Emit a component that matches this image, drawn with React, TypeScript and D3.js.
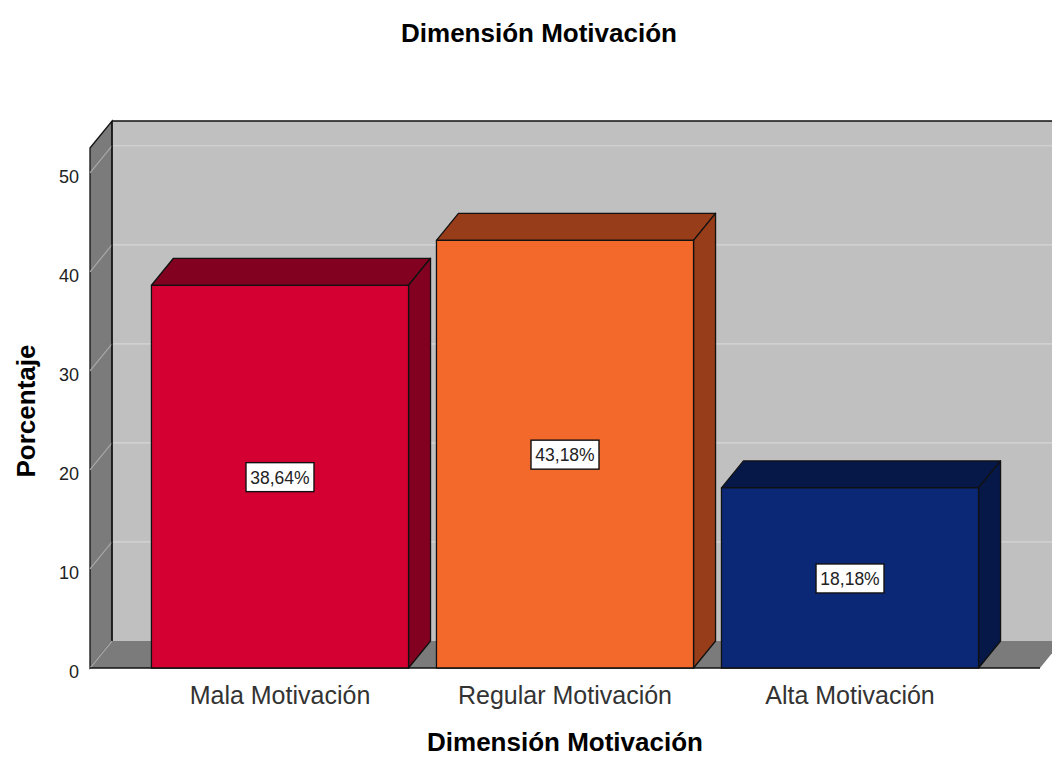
import React from "react";
import * as d3 from "d3";

const categories = ["Mala Motivación", "Regular Motivación", "Alta Motivación"];
const values = [38.64, 43.18, 18.18];
const valueLabels = ["38,64%", "43,18%", "18,18%"];
const frontColors = ["#d50032", "#f2692b", "#0b2877"];
const sideColors = ["#820020", "#983d1a", "#061848"];
const yTicks = [0, 10, 20, 30, 40, 50];

const W = 1052;
const H = 757;
const DX = 22;
const DY = -27;
const FONT = "'Liberation Sans', Arial, sans-serif";

export default function App() {
  const x = d3
    .scaleBand<string>()
    .domain(categories)
    .range([90, 1040])
    .paddingInner(0.098)
    .paddingOuter(0.2156);
  const y = d3.scaleLinear().domain([0, 52.5]).range([668, 148]);
  const y0 = y(0);
  const yTop = y(52.5);
  const left = 90;
  const right = 1040;

  const poly = (pts: [number, number][]) => pts.map((p) => p.join(",")).join(" ");

  return (
    <svg
      width={W}
      height={H}
      style={{ position: "absolute", left: 0, top: 0, background: "#fff" }}
      fontFamily={FONT}
    >
      <rect x={0} y={0} width={W} height={H} fill="#fff" />
      <text x={539} y={42} textAnchor="middle" fontSize={26} fontWeight="bold" fill="#000">
        Dimensión Motivación
      </text>

      {/* back wall */}
      <rect
        x={left + DX}
        y={yTop + DY}
        width={right - left + 10}
        height={y0 - yTop}
        fill="#c0c0c0"
      />
      {yTicks.slice(1).map((t) => (
        <line
          key={"g" + t}
          x1={left + DX}
          x2={right + DX + 10}
          y1={y(t) + DY}
          y2={y(t) + DY}
          stroke="#d6d6d6"
          strokeWidth={1.2}
        />
      ))}
      <line
        x1={left + DX}
        x2={right + DX + 10}
        y1={yTop + DY}
        y2={yTop + DY}
        stroke="#111"
        strokeWidth={1.5}
      />
      {/* left wall */}
      <polygon
        points={poly([
          [left, yTop],
          [left + DX, yTop + DY],
          [left + DX, y0 + DY],
          [left, y0],
        ])}
        fill="#7b7b7b"
        stroke="#111"
        strokeWidth={1.3}
      />
      {yTicks.slice(1).map((t) => (
        <line
          key={"w" + t}
          x1={left}
          x2={left + DX}
          y1={y(t)}
          y2={y(t) + DY}
          stroke="#a8a8a8"
          strokeWidth={1.2}
        />
      ))}
      {/* floor */}
      <polygon
        points={poly([
          [left, y0],
          [left + DX, y0 + DY],
          [right + DX, y0 + DY],
          [right, y0],
        ])}
        fill="#7b7b7b"
      />
      <line x1={left} x2={left + DX} y1={y0} y2={y0 + DY} stroke="#a8a8a8" strokeWidth={1.2} />
      <line x1={left} x2={right} y1={y0} y2={y0} stroke="#111" strokeWidth={1.5} />
      <line x1={left + DX} x2={left + DX} y1={yTop + DY} y2={y0 + DY} stroke="#111" strokeWidth={1.3} />

      {/* bars */}
      {categories.map((c, i) => {
        const bx = x(c)!;
        const bw = x.bandwidth();
        const by = y(values[i]);
        return (
          <g key={c} stroke="#111" strokeWidth={1.3} strokeLinejoin="round">
            <polygon
              points={poly([
                [bx, by],
                [bx + DX, by + DY],
                [bx + bw + DX, by + DY],
                [bx + bw, by],
              ])}
              fill={sideColors[i]}
            />
            <polygon
              points={poly([
                [bx + bw, by],
                [bx + bw + DX, by + DY],
                [bx + bw + DX, y0 + DY],
                [bx + bw, y0],
              ])}
              fill={sideColors[i]}
            />
            <rect x={bx} y={by} width={bw} height={y0 - by} fill={frontColors[i]} />
          </g>
        );
      })}

      {/* value labels */}
      {categories.map((c, i) => {
        const cx = x(c)! + x.bandwidth() / 2;
        const cy = y(values[i] / 2);
        return (
          <g key={"l" + c}>
            <rect
              x={cx - 34}
              y={cy - 14}
              width={68}
              height={29}
              fill="#fff"
              stroke="#111"
              strokeWidth={1.4}
            />
            <text x={cx} y={cy + 7} textAnchor="middle" fontSize={17.5} fill="#222">
              {valueLabels[i]}
            </text>
          </g>
        );
      })}

      {/* y tick labels */}
      {yTicks.map((t) => (
        <text key={"t" + t} x={79} y={y(t) + 10} textAnchor="end" fontSize={18} fill="#222">
          {t}
        </text>
      ))}

      {/* category labels */}
      {categories.map((c) => (
        <text
          key={"c" + c}
          x={x(c)! + x.bandwidth() / 2}
          y={704}
          textAnchor="middle"
          fontSize={25}
          fill="#333"
        >
          {c}
        </text>
      ))}

      <text x={565} y={751} textAnchor="middle" fontSize={26} fontWeight="bold" fill="#000">
        Dimensión Motivación
      </text>
      <text
        transform={`translate(35,411) rotate(-90)`}
        textAnchor="middle"
        fontSize={26}
        fontWeight="bold"
        fill="#000"
      >
        Porcentaje
      </text>
    </svg>
  );
}
